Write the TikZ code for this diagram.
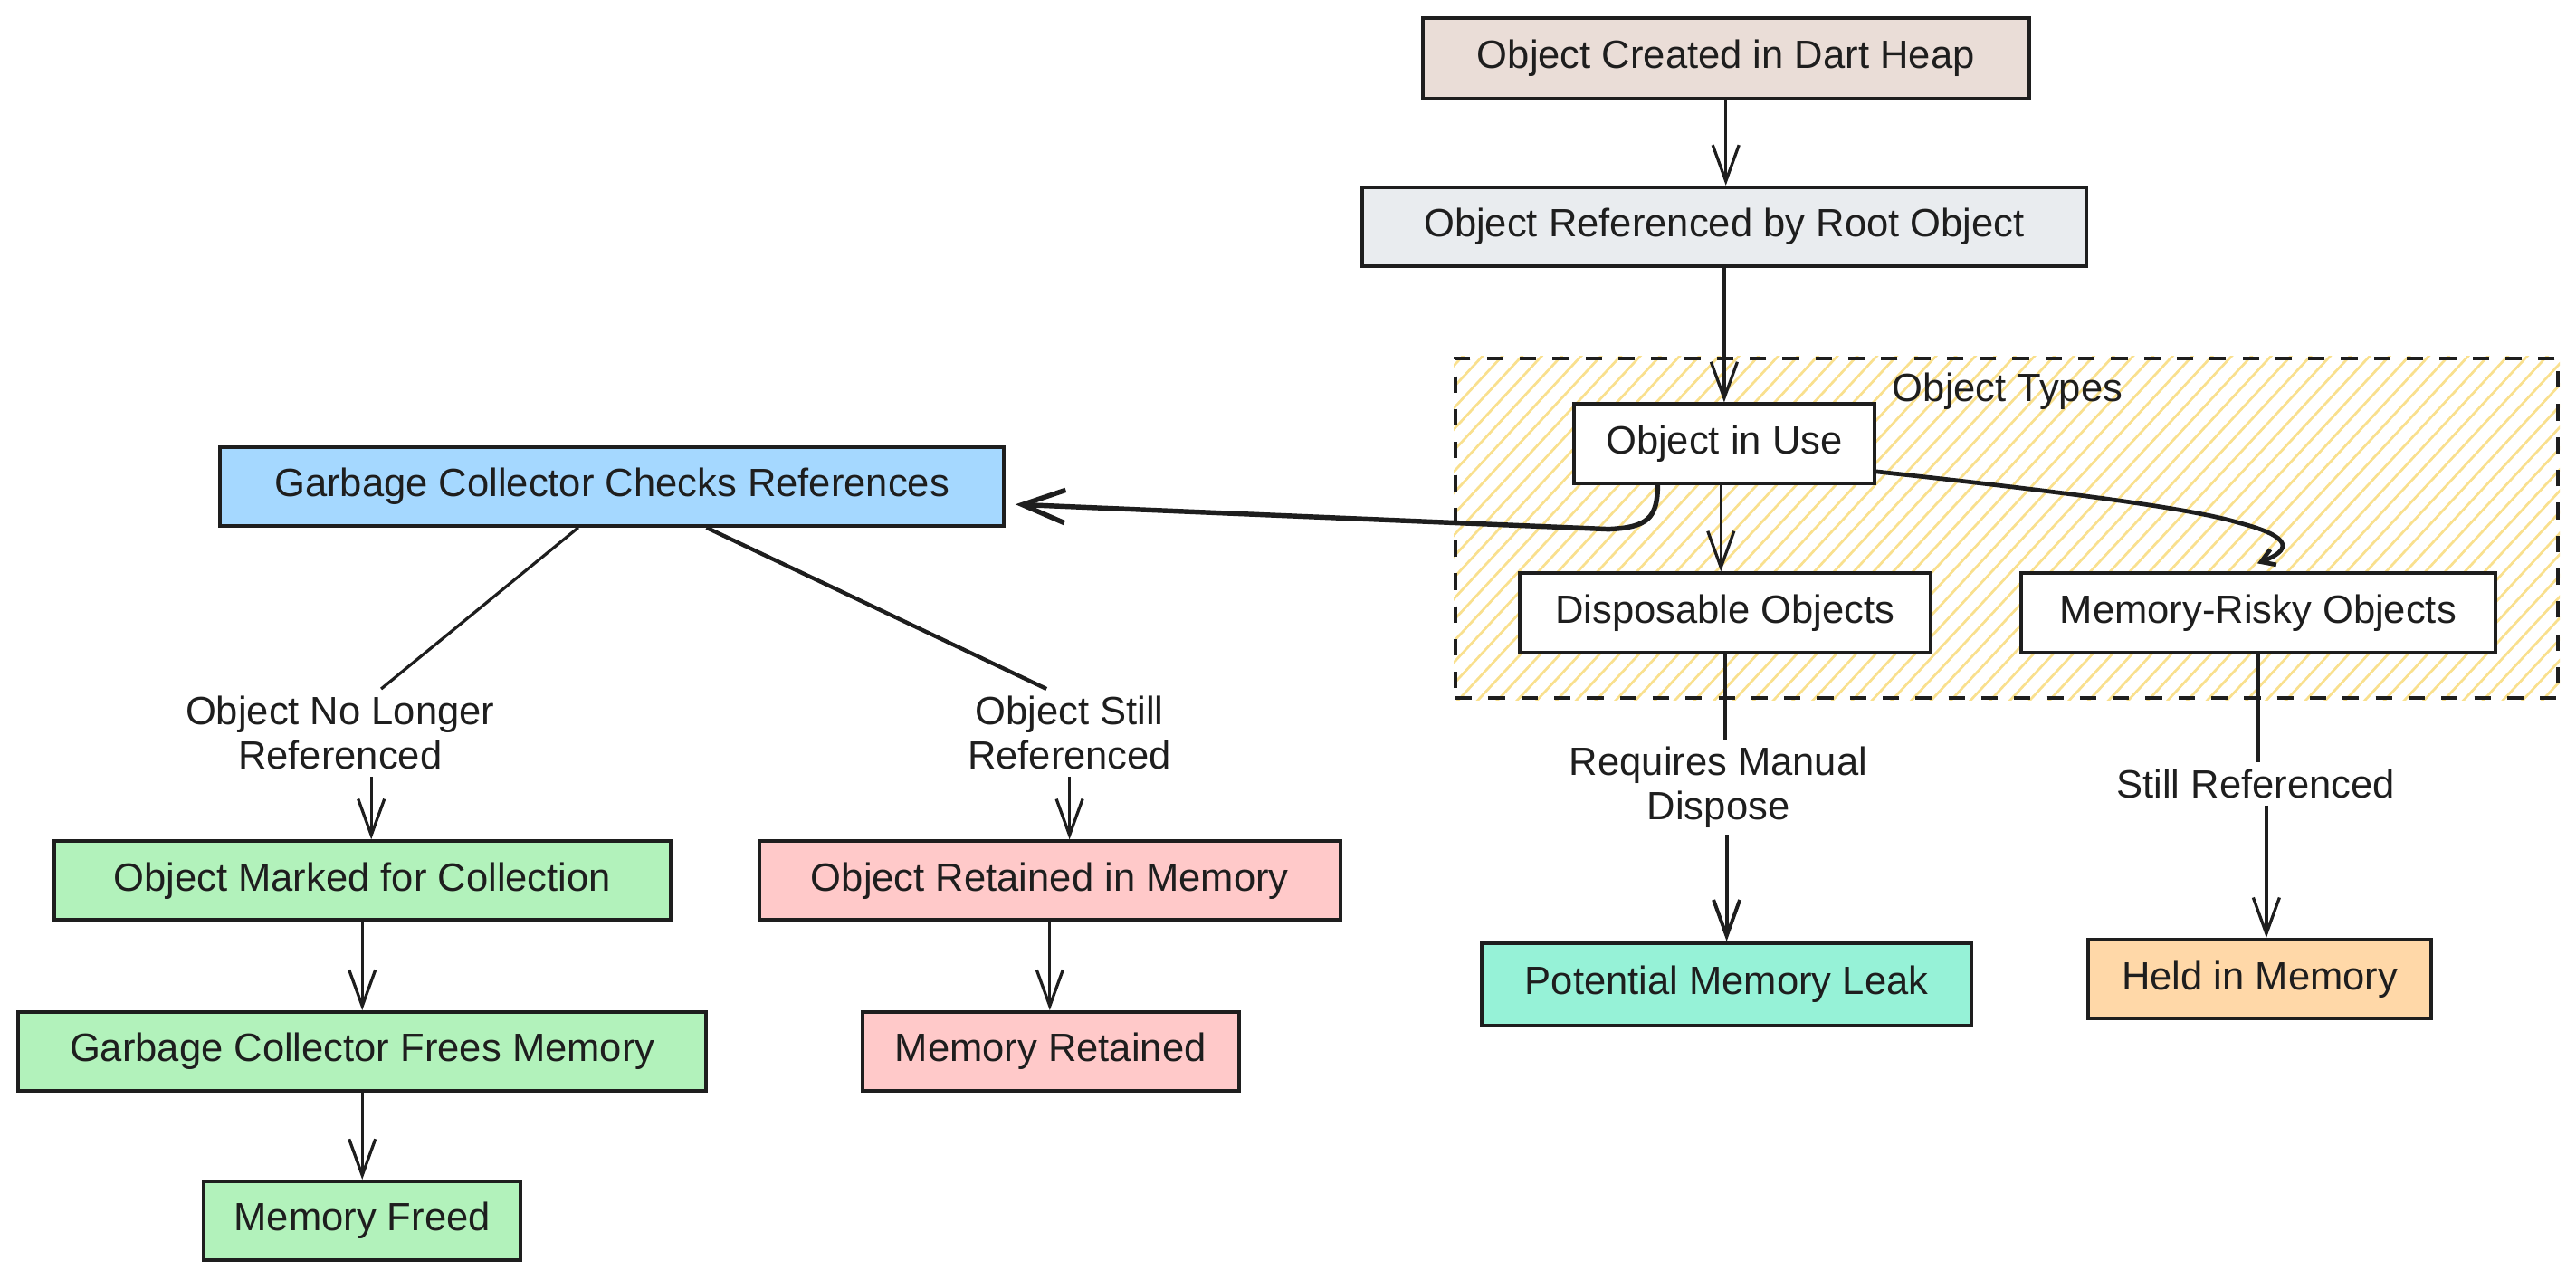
\documentclass[tikz,border=0pt]{standalone}
\usepackage{fontspec}
\setmainfont{Liberation Sans}
\usetikzlibrary{arrows.meta,calc}
\definecolor{ink}{HTML}{1E1E1E}
\definecolor{cCreated}{HTML}{EADDD7}
\definecolor{cRoot}{HTML}{E9ECEF}
\definecolor{cBlue}{HTML}{A5D8FF}
\definecolor{cGreen}{HTML}{B2F2BB}
\definecolor{cRed}{HTML}{FFC9C9}
\definecolor{cTeal}{HTML}{96F2D7}
\definecolor{cOrange}{HTML}{FFD8A8}
\definecolor{cHatch}{HTML}{F9E08E}
\begin{document}
\begin{tikzpicture}[x=0.5pt,y=-0.5pt,
  font=\fontsize{12pt}{13.5pt}\selectfont,
  box/.style={draw=ink, line width=1.1pt, text=ink, minimum height=24pt, inner sep=0pt, align=center},
  lbl/.style={text=ink, align=center, inner sep=2pt},
  ln/.style={draw=ink, line width=0.9pt},
  arr/.style={draw=ink, line width=0.9pt, -{Straight Barb[length=11pt,width=8pt]}},
  gcarr/.style={draw=ink, line width=1.5pt, -{Straight Barb[length=13pt,width=10pt]}},
  riskarr/.style={draw=ink, line width=1.3pt, -{Straight Barb[length=4pt,width=5pt]}},
  grp/.style={draw=ink, line width=1.1pt, dash pattern=on 5pt off 5pt, inner sep=0pt}
]
\useasboundingbox (0,0) rectangle (1568,779);

% group with hatching
\node[grp, minimum width=335.5pt, minimum height=103.5pt] (group) at (1221.5,321.5) {};
\begin{scope}
  \clip (group.south west) rectangle (group.north east);
  \foreach \x in {680,692,...,1570} {
    \draw[cHatch, line width=0.75pt] (\x,430) -- ++(200,-215);
  }
\end{scope}
\node[grp, minimum width=335.5pt, minimum height=103.5pt] at (group.center) {};
\node[lbl] (typeslbl) at (1222,238) {Object Types};

% nodes
\node[box, fill=cCreated, minimum width=184.5pt, minimum height=24.5pt] (created) at (1050.5,35.5) {Object Created in Dart Heap};
\node[box, fill=cRoot, minimum width=220.5pt] (root) at (1049.5,138) {Object Referenced by Root Object};
\node[box, fill=white, minimum width=91.5pt] (inuse) at (1049.5,270) {Object in Use};
\node[box, fill=white, minimum width=125pt] (disp) at (1050,373) {Disposable Objects};
\node[box, fill=white, minimum width=144.5pt] (risky) at (1374.5,373) {Memory-Risky Objects};
\node[box, fill=cBlue, minimum width=238.5pt] (gc) at (372.5,296) {Garbage Collector Checks References};
\node[box, fill=cGreen, minimum width=187.5pt] (marked) at (220.5,536) {Object Marked for Collection};
\node[box, fill=cGreen, minimum width=209.5pt] (frees) at (220.5,640) {Garbage Collector Frees Memory};
\node[box, fill=cGreen, minimum width=96.5pt] (freed) at (220.5,743) {Memory Freed};
\node[box, fill=cRed, minimum width=177pt] (retained) at (639,536) {Object Retained in Memory};
\node[box, fill=cRed, minimum width=114.5pt] (memret) at (639.5,640) {Memory Retained};
\node[box, fill=cTeal, minimum width=149pt, minimum height=25pt] (leak) at (1051,599) {Potential Memory Leak};
\node[box, fill=cOrange, minimum width=104.5pt] (held) at (1375.5,596) {Held in Memory};

% edge labels
\node[lbl] (nolonger) at (207,446) {Object No Longer\\Referenced};
\node[lbl] (still) at (651,446) {Object Still\\Referenced};
\node[lbl] (manual) at (1046,479) {Requires Manual\\Dispose};
\node[lbl] (stillref) at (1373,477) {Still Referenced};

% connectors
\draw[arr] (created.south) -- (created.south |- root.north);
\draw[arr] (root.south) -- (root.south |- inuse.north);
\coordinate (d0) at ([xshift=-1pt]inuse.south);
\draw[arr] (d0) -- (d0 |- disp.north);

\coordinate (r0) at ([yshift=-8.5pt]inuse.east);
\coordinate (r1) at ([xshift=-0.25pt,yshift=2.5pt]risky.north);
\draw[riskarr] (r0) .. controls ($(r0)+(110,12)$) and ($(r0)+(190,22)$) .. ($(r0)+(220,31)$)
  .. controls ($(r0)+(255,40)$) and ($(r0)+(252,48)$) .. (r1);

\coordinate (g0) at ([xshift=-20.25pt]inuse.south);
\coordinate (g1) at ([xshift=3pt,yshift=-5.5pt]gc.east);
\draw[gcarr] (g0) .. controls ($(g0)+(0,20)$) and ($(g0)+(-6,26)$) .. ($(g0)+(-30,27)$) -- (g1);

\draw[ln] ([xshift=-10.25pt]gc.south) -- ([xshift=12.5pt]nolonger.north);
\coordinate (a1) at ([xshift=9.5pt]nolonger.south);
\draw[arr] (a1) -- (a1 |- marked.north);
\draw[ln, line width=1.2pt] ([xshift=28.75pt]gc.south) -- ([xshift=-7pt]still.north);
\draw[arr] (still.south) -- (still.south |- retained.north);

\draw[arr] (marked.south) -- (frees.north);
\draw[arr] (frees.south) -- (freed.north);
\draw[arr] (retained.south) -- (retained.south |- memret.north);

\draw[ln, line width=1.1pt] (disp.south) -- (disp.south |- manual.north);
\coordinate (m1) at (manual.south -| leak.north);
\draw[arr, line width=1.1pt] (m1) -- (leak.north);
\draw[ln, line width=1.1pt] (risky.south) -- (risky.south |- stillref.north);
\coordinate (s1) at ([xshift=2pt]stillref.south -| held.north);
\draw[arr] (s1) -- (s1 |- held.north);
\end{tikzpicture}
\end{document}
